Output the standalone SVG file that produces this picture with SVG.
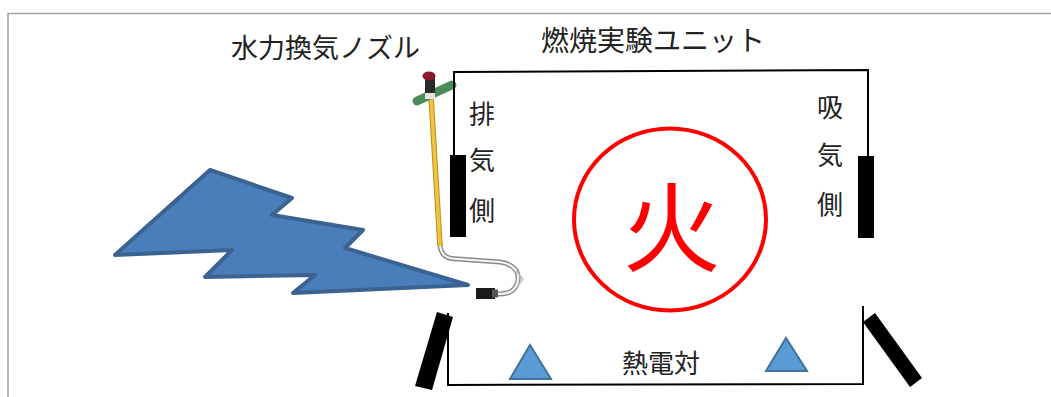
<svg xmlns="http://www.w3.org/2000/svg" width="1051" height="397" viewBox="0 0 1051 397">
  <style>
    .lbl { font-family: "Noto Sans CJK JP", "Noto Sans", sans-serif; fill: #222; }
    .wall { fill: none; stroke: #000; stroke-width: 2; }
    .bar { fill: #000; }
    .tc { fill: #5b9bd5; stroke: #41719c; stroke-width: 2; }
    .hose { fill: none; stroke-linecap: round; }
  </style>

  <rect width="1051" height="397" fill="#fff"/>
  <!-- page frame -->
  <polyline points="8,397 8,13.5 1051,13.5" fill="none" stroke="#a0a0a0" stroke-width="1.5"/>

  <!-- water-driven ventilation nozzle -->
  <g id="nozzle">
    <!-- hose -->
    <path class="hose" d="M440,245 C441,255 446,259 458,259 L500,262 C514,264 521,272 517,284 C514,292 508,294 496,294" stroke="#8a8a8a" stroke-width="5"/>
    <path class="hose" d="M440,245 C441,255 446,259 458,259 L500,262 C514,264 521,272 517,284 C514,292 508,294 496,294" stroke="#f4f4f4" stroke-width="2.2"/>
    <path d="M516,271 L523,279 L517,287" fill="none" stroke="#bbb" stroke-width="1.4"/>
    <rect x="476" y="288" width="19" height="11" fill="#1a1a1a"/>
    <rect x="492" y="289.5" width="6" height="8" fill="#555"/>
    <!-- yellow pole -->
    <line x1="431" y1="96" x2="440" y2="246" stroke="#b8901a" stroke-width="5.5"/>
    <line x1="431" y1="96" x2="440" y2="246" stroke="#efc440" stroke-width="3.5"/>
    <!-- head -->
    <line x1="417" y1="101" x2="452" y2="85" stroke="#4d8a5a" stroke-width="9" stroke-linecap="round"/>
    <rect x="425" y="78" width="10" height="18" fill="#2a2a2a"/>
    <rect x="425" y="93" width="10" height="6" fill="#e2e2e2"/>
    <ellipse cx="429" cy="76" rx="6.5" ry="4.5" fill="#8b1a2e"/>
  </g>

  <!-- combustion test unit enclosure -->
  <g id="unit">
    <polyline class="wall" points="454,157 454,72 868,70 868,157"/>
    <rect class="bar" x="450" y="155" width="16" height="82"/>
    <rect class="bar" x="858" y="156" width="16" height="82"/>
    <polyline class="wall" points="448,313 448,385 863,384 863,306"/>
    <polygon class="bar" points="437,312 453,317 432,390 415,386"/>
    <polygon class="bar" points="863,322 875,313 922,378 910,387"/>
  </g>

  <!-- lightning bolt -->
  <g id="bolt">
    <polygon points="115,255 210,170 292,198 272,215 363,230 345,248 468,285 293,293 315,275 205,277 232,250" fill="#4a7ebb" stroke="#3b6392" stroke-width="4" stroke-linejoin="round"/>
  </g>

  <!-- fire -->
  <g id="fire">
    <ellipse cx="670" cy="219.5" rx="96" ry="91" fill="none" stroke="#ff0000" stroke-width="4"/>
    <text x="672" y="264" font-size="98" text-anchor="middle" font-family="'Noto Sans CJK JP', sans-serif" fill="#ff0000">火</text>
  </g>

  <!-- thermocouples -->
  <g id="thermocouples">
    <polygon class="tc" points="530,345 551,379 510,379"/>
    <polygon class="tc" points="786,338 807,371 766,371"/>
  </g>

  <!-- labels -->
  <g id="labels">
    <text class="lbl" x="231" y="58" font-size="27">水力換気ノズル</text>
    <text class="lbl" x="541" y="51" font-size="28">燃焼実験ユニット</text>
    <g class="lbl" font-size="26" text-anchor="middle">
      <text x="482" y="124">排</text>
      <text x="482" y="170">気</text>
      <text x="482" y="220">側</text>
      <text x="830" y="117">吸</text>
      <text x="830" y="165">気</text>
      <text x="830" y="214">側</text>
      <text x="661" y="373">熱電対</text>
    </g>
  </g>
</svg>
